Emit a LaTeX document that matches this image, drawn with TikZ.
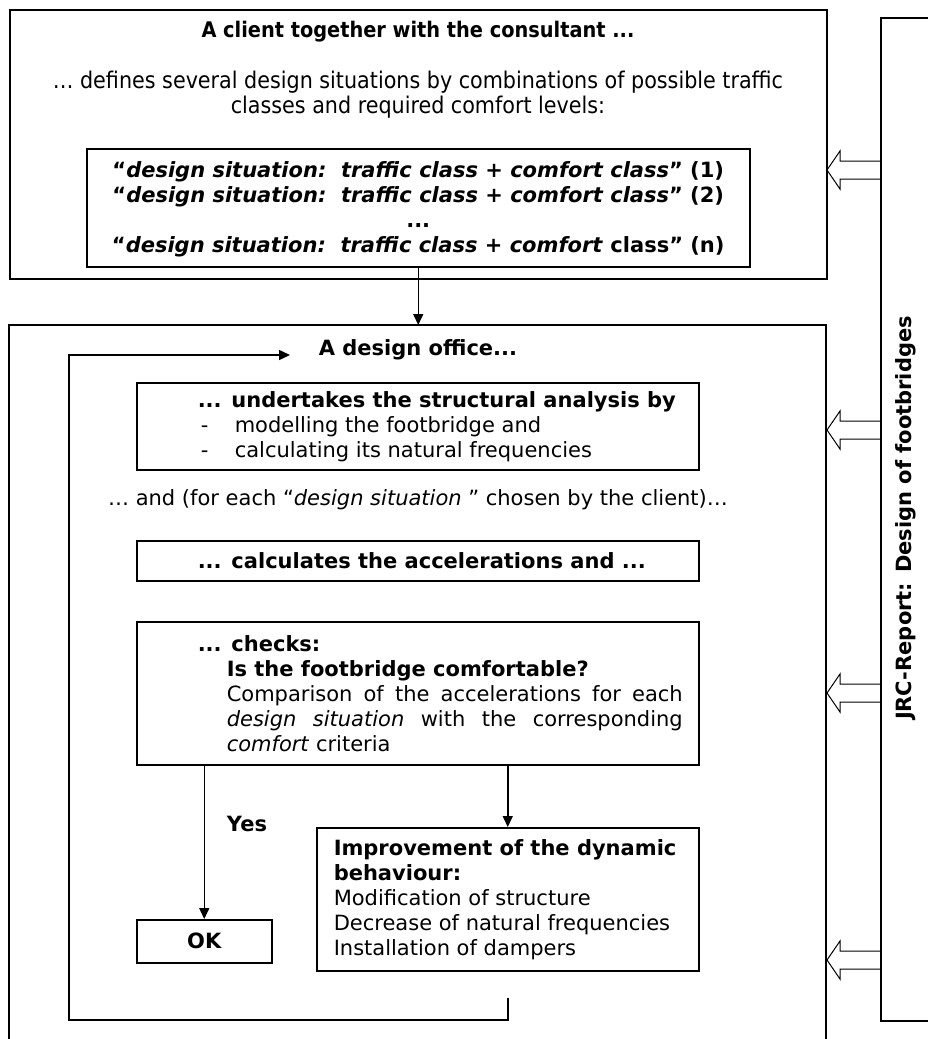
\documentclass[tikz,border=0pt]{standalone}
\usepackage{fontspec}
\setmainfont{DejaVu Sans}
\newfontfamily\condfont{DejaVu Sans Condensed}
\usetikzlibrary{arrows.meta}
\usetikzlibrary{positioning}

\begin{document}
\begin{tikzpicture}[x=1pt,y=-1pt,line width=1.5pt,
  box/.style={draw,anchor=north west,inner sep=0pt},
  txt/.style={inner sep=0pt,font=\fontsize{21}{25}\selectfont},
  bold/.style={inner sep=0pt,font=\bfseries\fontsize{21}{25}\selectfont},
  >={Triangle[length=11pt,width=10pt]}]
\useasboundingbox (0,0) rectangle (928,1039);
% the client part
\node[box,minimum width=817,minimum height=269] (client) at (9,9) {};
\node[bold,font=\condfont\bfseries\fontsize{21.5}{25}\selectfont] (clienthead) at (418,32) {A client together with the consultant ...};
\node[txt,align=center,font=\condfont\fontsize{23}{25}\selectfont] (defines) at (418,95) {… defines several design situations by combinations of possible traffic\\classes and required comfort levels:};
\node[box,minimum width=663,minimum height=118] (situations) at (86,148) {};
\node[bold,align=center] (sitlist) at ([yshift=-2pt]situations.center) {“\textit{design situation:\ \ traffic class} + \textit{comfort class}” (1)\\
“\textit{design situation:\ \ traffic class} + \textit{comfort class}” (2)\\
...\\
“\textit{design situation:\ \ traffic class} + \textit{comfort} class” (n)};
% the design office
\coordinate (office) at (417.5,325);
\draw (9,1045) |- (826,325) -- (826,1045);
\draw[->] (situations.south) -- (situations.south |- office);
\node[bold] (officehead) at (418,350) {A design office...};
\node[box,minimum width=562,minimum height=87] (analysis) at (136,382) {};
\node[txt,anchor=west,align=left] (analysistxt) at ([xshift=61]analysis.west) {\textbf{... undertakes the structural analysis by}\\
\makebox[37pt][l]{\hspace{3pt}-}modelling the footbridge and\\
\makebox[37pt][l]{\hspace{3pt}-}calculating its natural frequencies};
\node[txt] (foreach) at (418,500) {… and (for each “\textit{design situation }” chosen by the client)…};
\node[box,minimum width=562,minimum height=40] (accel) at (136,540) {};
\node[bold,anchor=west] (acceltxt) at ([xshift=61]accel.west) {... calculates the accelerations and ...};
\node[box,minimum width=562,minimum height=143] (check) at (136,621) {};
\node[txt,anchor=west] (checktxt) at ([xshift=61]check.west) {\parbox{485pt}{\textbf{... checks:}\par
\leftskip=29pt\textbf{Is the footbridge comfortable?}\par
Comparison of the accelerations for each\linebreak
\textit{design situation} with the corresponding\linebreak
\textit{comfort} criteria}};
\node[box,minimum width=135,minimum height=43,font=\bfseries\fontsize{21}{25}\selectfont] (ok) at (136,919) {OK};
\node[box,minimum width=382,minimum height=143] (improve) at (316,827) {};
\node[txt,anchor=west,align=left] (improvetxt) at ([xshift=17]improve.west) {\textbf{Improvement of the dynamic}\\
\textbf{behaviour:}\\
Modification of structure\\
Decrease of natural frequencies\\
Installation of dampers};
\draw[->] (ok.north |- check.south) -- (ok.north);
\node[bold] (yes) at (247,824) {Yes};
\draw[->] (improve.north |- check.south) -- (improve.north);
% loop back
\coordinate (loopstart) at ([yshift=-26pt]improve.south);
\coordinate (loopend) at (290,355);
\draw[->] (loopstart) |- (69,1020) |- (loopend);
% the report on the right
\node[box,minimum width=60,minimum height=1003] (report) at (880,17) {};
\node[bold,rotate=90] (reporttxt) at (906,518) {JRC-Report: Design of footbridges};
\foreach \ay in {170,430,693,960}
  \draw[line width=1pt] (880,\ay-9) -- ++(-40,0) -- ++(0,-10) -- ++(-13,19) -- ++(13,19) -- ++(0,-10) -- ++(40,0);
\end{tikzpicture}
\end{document}
